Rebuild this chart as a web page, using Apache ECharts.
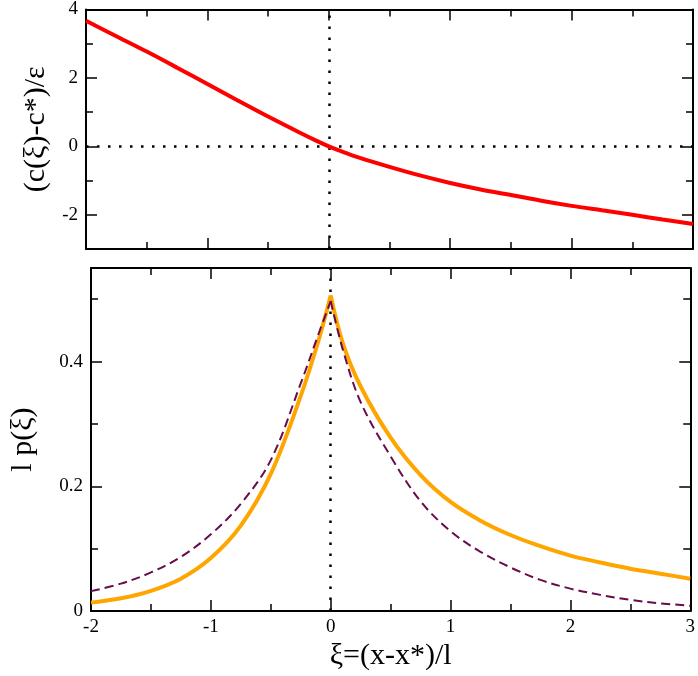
<!DOCTYPE html>
<html>
<head>
<meta charset="utf-8">
<script src="https://cdn.jsdelivr.net/npm/echarts@6/dist/echarts.min.js"></script>
<style>
  html, body { margin: 0; padding: 0; background: #fff; }
  #graph { width: 698px; height: 676px; }
</style>
</head>
<body>
<div id="graph"></div>
<script>
  // 横轴 xi 的采样点
  var xs = [-2, -1.75, -1.5, -1.25, -1, -0.75, -0.5, -0.25, -0.1, 0, 0.1, 0.25, 0.5, 0.75, 1, 1.25, 1.5, 1.75, 2, 2.25, 2.5, 2.75, 3];
  // 上图 (c(xi)-c*)/eps
  var cShift = [3.67, 3.22, 2.77, 2.30, 1.82, 1.34, 0.87, 0.42, 0.16, 0, -0.14, -0.33, -0.6, -0.85, -1.07, -1.26, -1.42, -1.59, -1.74, -1.87, -2.0, -2.14, -2.27];
  // 下图 l p(xi)，实线（橙色）和虚线
  var pSolid = [0.0136, 0.0205, 0.0325, 0.052, 0.085, 0.137, 0.220, 0.345, 0.435, 0.506, 0.430, 0.360, 0.278, 0.218, 0.175, 0.145, 0.122, 0.104, 0.089, 0.078, 0.068, 0.060, 0.052];
  var pDashed = [0.032, 0.044, 0.062, 0.087, 0.123, 0.172, 0.242, 0.365, 0.445, 0.497, 0.420, 0.335, 0.248, 0.176, 0.128, 0.095, 0.070, 0.050, 0.036, 0.026, 0.018, 0.0125, 0.0085];
  // 刻度
  var topMajor = [-2, 0, 2, 4];
  var topMinor = [-3, -1, 1, 3];
  var botMajor = [0, 0.2, 0.4];
  var botMinor = [0.1, 0.3, 0.5];

  var font = "Liberation Serif";
  var iPeak = xs.indexOf(0);

  function pairs(vals, a, b) {
    var out = [];
    for (var i = a; i <= b; i++) out.push([xs[i], vals[i]]);
    return out;
  }

  var frame = { show: true, onZero: false, lineStyle: { color: "#000", width: 2 } };
  var noLine = { show: false, onZero: false };

  // x 轴，上下各一条
  function xAx(grid, pos, labels, name) {
    return {
      type: "value", gridIndex: grid, position: pos,
      min: -2, max: 3, interval: 1,
      axisLine: frame,
      axisTick: { inside: true, length: 11, lineStyle: { color: "#000", width: 1.5 } },
      minorTick: { show: true, splitNumber: 2, length: 7, lineStyle: { color: "#000", width: 1.5 } },
      splitLine: { show: false },
      axisLabel: { show: labels, margin: 6, color: "#000", fontFamily: font, fontSize: 19 },
      name: name || "", nameLocation: "middle", nameGap: 29,
      nameTextStyle: { color: "#000", fontFamily: font, fontSize: 30 }
    };
  }

  // y 轴：主刻度和次刻度分开画
  function yAx(grid, pos, min, max, ticks, len, labels, line, name, gap) {
    return {
      type: "value", gridIndex: grid, position: pos,
      min: min, max: max,
      axisLine: line ? frame : noLine,
      axisTick: { inside: true, length: len, customValues: ticks, lineStyle: { color: "#000", width: 1.5 } },
      splitLine: { show: false },
      axisLabel: { show: labels, customValues: ticks, margin: 8, color: "#000", fontFamily: font, fontSize: 19 },
      name: name || "", nameLocation: "middle", nameGap: gap || 0,
      nameTextStyle: { color: "#000", fontFamily: font, fontSize: 30 }
    };
  }

  var dotted = { color: "#000", width: 2.5, type: [2.5, 8.5] };

  function curve(xi, yi, z, data, style) {
    return {
      type: "line", xAxisIndex: xi, yAxisIndex: yi, z: z,
      showSymbol: false, smooth: 0.35, data: data, lineStyle: style
    };
  }

  var dashStyle = { color: "#670c4c", width: 2, type: [9, 5] };
  var orangeStyle = { color: "#ffa500", width: 4 };

  var option = {
    animation: false,
    grid: [
      { left: 86, top: 7, width: 607, height: 242 },
      { left: 86, top: 268, width: 607, height: 346 }
    ],
    xAxis: [
      xAx(0, "bottom", false),
      xAx(0, "top", false),
      xAx(1, "bottom", true, "ξ=(x-x*)/l"),
      xAx(1, "top", false)
    ],
    yAxis: [
      yAx(0, "left", -3, 4, topMajor, 11, true, true, "(c(ξ)-c*)/ε", 33),
      yAx(0, "left", -3, 4, topMinor, 7, false, false),
      yAx(0, "right", -3, 4, topMajor, 11, false, true),
      yAx(0, "right", -3, 4, topMinor, 7, false, false),
      yAx(1, "left", 0, 0.55, botMajor, 11, true, true, "l p(ξ)", 53),
      yAx(1, "left", 0, 0.55, botMinor, 7, false, false),
      yAx(1, "right", 0, 0.55, botMajor, 11, false, true),
      yAx(1, "right", 0, 0.55, botMinor, 7, false, false)
    ],
    series: [
      // 点线参考线
      {
        type: "line", xAxisIndex: 0, yAxisIndex: 0, data: [], silent: true,
        markLine: { z: 1, silent: true, symbol: "none", label: { show: false }, lineStyle: dotted,
          data: [{ xAxis: 0 }, { yAxis: 0 }] }
      },
      {
        type: "line", xAxisIndex: 2, yAxisIndex: 4, data: [], silent: true,
        markLine: { z: 1, silent: true, symbol: "none", label: { show: false }, lineStyle: dotted,
          data: [{ xAxis: 0 }] }
      },
      curve(0, 0, 3, pairs(cShift, 0, xs.length - 1), { color: "#ff0000", width: 4 }),
      // 峰值两侧分开画，保留尖角
      curve(2, 4, 3, pairs(pDashed, 0, iPeak), dashStyle),
      curve(2, 4, 3, pairs(pDashed, iPeak, xs.length - 1), dashStyle),
      curve(2, 4, 2, pairs(pSolid, 0, iPeak), orangeStyle),
      curve(2, 4, 2, pairs(pSolid, iPeak, xs.length - 1), orangeStyle)
    ]
  };

  var myChart = echarts.init(document.getElementById("graph"));
  myChart.setOption(option);
</script>
</body>
</html>
